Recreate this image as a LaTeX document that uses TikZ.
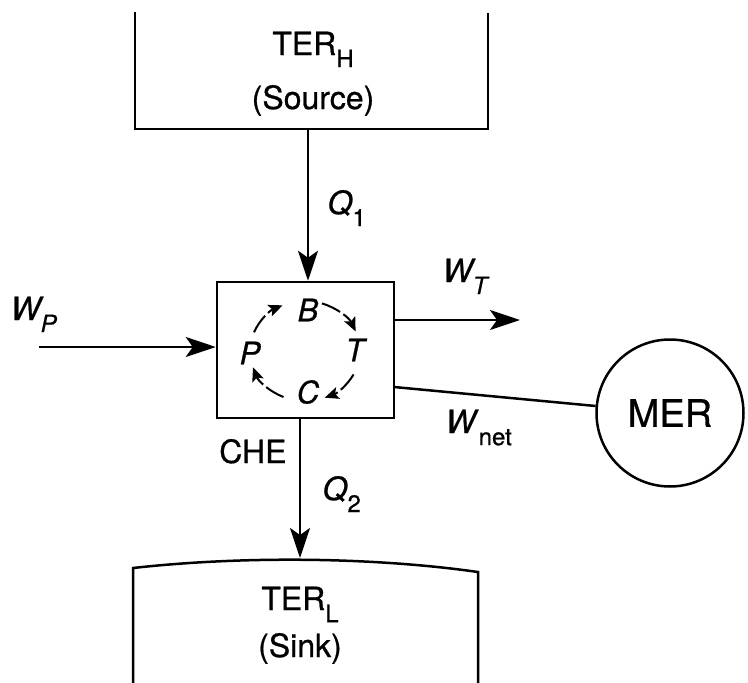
\documentclass[tikz,border=0pt]{standalone}
\usepackage{fontspec}
\setmainfont{TeX Gyre Heros}[FakeBold=0.7]
\usepackage{tikz}
\usetikzlibrary{arrows.meta}

\newcommand\lowsub[1]{\raisebox{-0.38em}{\fontsize{24}{27}\selectfont #1}}

\begin{document}
\begin{tikzpicture}[>={Stealth[length=30pt,width=20pt,inset=7pt]}, x=1pt, y=-1pt, line width=2.5pt,
    every node/.style={font=\fontsize{32}{38}\selectfont},
    cyclearrow/.style={line width=2pt, dash pattern=on 20pt off 4pt, -{Stealth[length=14pt,width=12pt,inset=3pt]}},
    cycleletter/.style={font=\fontsize{31}{36}\selectfont\itshape, inner sep=0pt}]
    \useasboundingbox (0,0) rectangle (748,683);

    \draw (135,12) -- (135,129) -- (488,129) -- (488,13);
    \node[anchor=base, inner sep=1pt] (terh) at (313,55) {TER\lowsub{H}};
    \node[anchor=base, inner sep=1pt] (source) at (313,109) {(Source)};

    \draw (133,683) -- (133,568) .. controls (250,555) and (380,558) .. (478,572) -- (478,683);
    \node[anchor=base, inner sep=1pt] (terl) at (300,610) {TER\lowsub{L}};
    \node[anchor=base, inner sep=1pt] (sink) at (300,657) {(Sink)};

    \node[draw, minimum width=177pt, minimum height=136pt, inner sep=0pt] (che) at (305.5,350) {};
    \node[circle, draw, minimum size=147pt, inner sep=0pt, font=\fontsize{38}{44}\selectfont] (mer) at (670,413) {MER};

    \coordinate (srcb) at (308,129);
    \coordinate (snkt) at (300,558);
    \coordinate (wpin) at (39,347);
    \coordinate (wtout) at (520,320);
    \coordinate (wnet) at (394,387);
    \coordinate (cyc) at (305,351);

    \draw[->] (srcb) -- (srcb |- che.north);
    \draw[->] (snkt |- che.south) -- (snkt);
    \draw[->] (wpin) -- (wpin -| che.west);
    \draw[->] (wtout -| che.east) -- (wtout);
    \draw (wnet) -- (mer);

    \node[cycleletter] (cb) at (308,310) {B};
    \node[cycleletter] (ct) at (355,350) {T};
    \node[cycleletter] (cc) at (308,392) {C};
    \node[cycleletter] (cp) at (250,353) {P};
    \draw[cyclearrow] (cyc) ++(158:55pt and 50pt) arc[start angle=158, end angle=114, x radius=55pt, y radius=50pt];
    \draw[cyclearrow] (cyc) ++(72:55pt and 50pt) arc[start angle=72, end angle=23, x radius=55pt, y radius=50pt];
    \draw[cyclearrow] (cyc) ++(-28:55pt and 50pt) arc[start angle=-28, end angle=-69, x radius=55pt, y radius=50pt];
    \draw[cyclearrow] (cyc) ++(-113:55pt and 50pt) arc[start angle=-113, end angle=-161, x radius=55pt, y radius=50pt];

    \node[anchor=base west] (q1) at (323,214) {\textit{Q}\lowsub{1}};
    \node[anchor=base west] (q2) at (318,500) {\textit{Q}\lowsub{2}};
    \node[anchor=base west, inner sep=0pt] (chel) at (218,463) {CHE};
    \node[anchor=base west] (wp) at (6,320) {\textit{W}\kern-3pt\lowsub{\textit{P}}};
    \node[anchor=base west] (wt) at (438,282) {\textit{W}\kern-3pt\lowsub{\textit{T}}};
    \node[anchor=base west] (wnetl) at (441,433) {\textit{W}\lowsub{net}};
\end{tikzpicture}
\end{document}
